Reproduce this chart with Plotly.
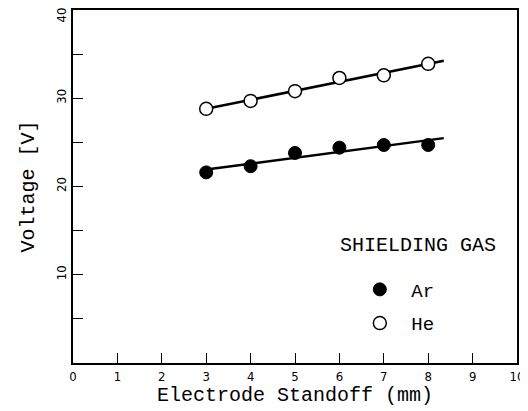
import numpy as np
import plotly.graph_objects as go

standoff = [3, 4, 5, 6, 7, 8]
voltage_ar = [21.6, 22.3, 23.8, 24.4, 24.7, 24.7]
voltage_he = [28.8, 29.7, 30.8, 32.3, 32.6, 33.9]
fit_x_end = 8.35

x_ticks = list(range(0, 11))
y_tickvals = [0, 5, 10, 15, 20, 25, 30, 35, 40]
y_ticktext = ["", "", "10", "", "20", "", "30", "", ""]
y_top_label = "40"

mono = "Liberation Mono, Courier New, monospace"
narrow = "Liberation Sans Narrow, Arial Narrow, DejaVu Sans Condensed, sans-serif"

fig = go.Figure()

for yv in [voltage_he, voltage_ar]:
    slope, icpt = np.polyfit(standoff, yv, 1)
    fx = [standoff[0], fit_x_end]
    fy = [icpt + slope * v for v in fx]
    fig.add_trace(go.Scatter(x=fx, y=fy, mode="lines",
                             line=dict(color="black", width=2.5),
                             showlegend=False, hoverinfo="skip"))

fig.add_trace(go.Scatter(x=standoff, y=voltage_ar, mode="markers", name=" Ar",
                         legendgroup="ar",
                         marker=dict(symbol="circle", size=13, color="black",
                                     line=dict(color="black", width=1))))
fig.add_trace(go.Scatter(x=standoff, y=voltage_he, mode="markers", name=" He",
                         legendgroup="he",
                         marker=dict(symbol="circle", size=13, color="white",
                                     line=dict(color="black", width=1.5))))

fig.update_layout(
    width=528, height=411,
    margin=dict(l=65, r=19, t=2, b=56, autoexpand=False),
    paper_bgcolor="white", plot_bgcolor="white",
    font=dict(family=mono, color="black", size=19),
    showlegend=True,
    legend=dict(x=0.646, y=0.262, xanchor="left", yanchor="top",
                bgcolor="rgba(0,0,0,0)", tracegroupgap=6,
                font=dict(family=mono, size=19, color="black"),
                traceorder="grouped"),
    annotations=[
        dict(text="SHIELDING GAS", x=0.777, y=0.334, xref="paper", yref="paper",
             showarrow=False, font=dict(family=mono, size=20, color="black"),
             xanchor="center", yanchor="middle"),
        dict(text=y_top_label, x=-0.025, y=0.987, xref="paper", yref="paper",
             showarrow=False, textangle=-90,
             font=dict(family=narrow, size=13, color="black"),
             xanchor="center", yanchor="middle"),
    ],
)

fig.update_xaxes(range=[0, 10], tickvals=x_ticks, ticks="inside", ticklen=10,
                 tickwidth=1.2, tickcolor="black", automargin=False,
                 showline=True, linecolor="black", linewidth=1.8, mirror=True,
                 showgrid=False, zeroline=False,
                 tickfont=dict(family=narrow, size=13, color="black"),
                 title=dict(text="Electrode Standoff (mm)", standoff=4,
                            font=dict(family=mono, size=20, color="black")))
fig.update_yaxes(range=[0, 40], tickvals=y_tickvals, ticktext=y_ticktext,
                 ticks="inside", ticklen=10, tickwidth=1.2, tickcolor="black",
                 tickangle=-90, automargin=False,
                 showline=True, linecolor="black", linewidth=1.8, mirror=True,
                 showgrid=False, zeroline=False,
                 tickfont=dict(family=narrow, size=13, color="black"),
                 title=dict(text="Voltage [V]", standoff=14,
                            font=dict(family=mono, size=20, color="black")))

fig.write_html("out.html")
